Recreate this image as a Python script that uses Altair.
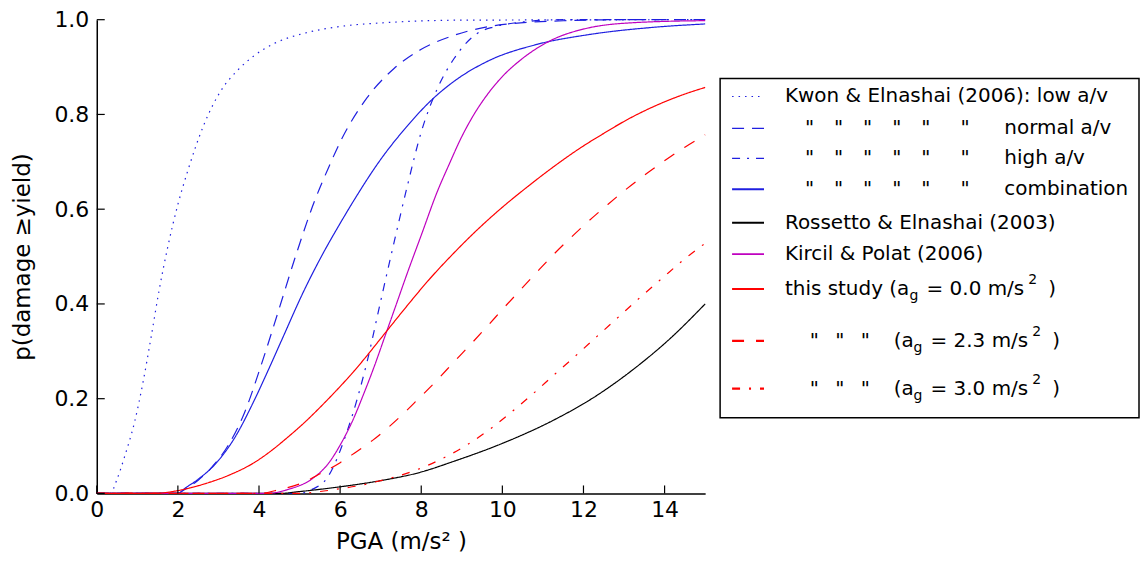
import altair as alt
import pandas as pd

# ---------------- data ----------------
series_names = ["low", "normal", "high", "combination", "rossetto", "kircil", "ag0", "ag23", "ag30"]

low_x = [0, 0.33, 0.5, 0.68, 0.93, 1.13, 1.34, 1.54, 1.75, 2.0, 2.24, 2.65, 3.06, 3.47, 3.88, 4.38, 5.1, 5.94, 7.17, 9.0, 15]
low_y = [0, 0, 0.03, 0.076, 0.15, 0.23, 0.33, 0.43, 0.52, 0.61, 0.68, 0.78, 0.85, 0.893, 0.924, 0.95, 0.971, 0.985, 0.994, 0.999, 1.0]

normal_x = [0, 2.0, 2.16, 2.5, 2.8, 3.23, 3.64, 4.05, 4.46, 4.91, 5.36, 5.7, 6.02, 6.67, 7.33, 7.99, 8.81, 10.04, 11.6, 13.0, 15]
normal_y = [0, 0, 0.008, 0.028, 0.052, 0.1, 0.17, 0.27, 0.38, 0.503, 0.615, 0.685, 0.745, 0.836, 0.897, 0.937, 0.967, 0.99, 0.998, 1.0, 1.0]

high_x = [0, 5.0, 5.3, 5.69, 6.18, 6.67, 7.0, 7.33, 7.66, 7.99, 8.4, 8.81, 9.38, 9.8, 10.29, 11.5, 15]
high_y = [0, 0, 0.008, 0.034, 0.133, 0.28, 0.406, 0.53, 0.65, 0.76, 0.855, 0.918, 0.971, 0.985, 0.993, 1.0, 1.0]

comb_x = [0, 2.0, 2.16, 2.5, 2.9, 3.39, 3.88, 4.2, 4.54, 5.12, 5.6, 6.0, 6.35, 7.0, 7.66, 8.2, 8.81, 9.63, 10.86, 12.09, 13.74, 15]
comb_y = [0, 0, 0.01, 0.03, 0.06, 0.116, 0.196, 0.255, 0.32, 0.43, 0.51, 0.57, 0.62, 0.705, 0.776, 0.826, 0.87, 0.912, 0.948, 0.968, 0.984, 0.991]

ross_x = [0, 4.5, 5.0, 6.0, 7.0, 7.99, 8.81, 10.04, 11.27, 12.26, 13.32, 14.15, 15]
ross_y = [0, 0, 0.004, 0.014, 0.027, 0.045, 0.068, 0.107, 0.155, 0.203, 0.268, 0.328, 0.40]

kirc_x = [0, 4.2, 4.7, 5.36, 5.7, 6.02, 6.3, 6.59, 6.85, 7.09, 7.38, 7.66, 8.0, 8.4, 8.7, 8.97, 9.3, 9.63, 10.0, 10.45, 11.1, 12.09, 13.3, 15]
kirc_y = [0, 0, 0.008, 0.034, 0.062, 0.105, 0.152, 0.212, 0.27, 0.328, 0.398, 0.466, 0.545, 0.638, 0.697, 0.748, 0.8, 0.842, 0.88, 0.915, 0.952, 0.982, 0.994, 0.998]

ag0_x = [0, 1.4, 2.0, 2.65, 3.3, 3.88, 4.3, 4.7, 5.1, 5.52, 6.35, 7.17, 7.66, 8.2, 8.81, 9.4, 10.04, 10.6, 11.27, 11.9, 12.5, 13.1, 13.74, 14.4, 15]
ag0_y = [0, 0, 0.006, 0.02, 0.04, 0.065, 0.09, 0.118, 0.148, 0.183, 0.259, 0.345, 0.397, 0.452, 0.508, 0.558, 0.607, 0.646, 0.69, 0.728, 0.76, 0.79, 0.817, 0.84, 0.857]

ag23_x = [0, 4.0, 4.5, 5.0, 5.52, 6.0, 6.35, 6.8, 7.17, 7.58, 7.9, 8.4, 8.81, 9.2, 9.63, 10.04, 10.45, 10.86, 11.27, 11.7, 12.09, 12.6, 13.08, 13.6, 14.06, 14.5, 15]
ag23_y = [0, 0, 0.008, 0.02, 0.042, 0.065, 0.085, 0.112, 0.138, 0.17, 0.197, 0.24, 0.278, 0.313, 0.353, 0.392, 0.43, 0.468, 0.505, 0.541, 0.572, 0.61, 0.644, 0.678, 0.706, 0.731, 0.757]

ag30_x = [0, 5.0, 5.5, 6.0, 6.5, 7.0, 7.4, 7.83, 8.48, 9.14, 9.7, 10.2, 10.75, 11.27, 11.8, 12.34, 12.87, 13.4, 13.95, 14.48, 15]
ag30_y = [0, 0, 0.004, 0.01, 0.017, 0.027, 0.036, 0.048, 0.072, 0.103, 0.136, 0.17, 0.21, 0.25, 0.29, 0.332, 0.373, 0.414, 0.455, 0.494, 0.528]

x_ticks = [0, 2, 4, 6, 8, 10, 12, 14]
y_ticks = [0.0, 0.2, 0.4, 0.6, 0.8, 1.0]

x_title = "PGA (m/s\u00b2 )"
y_title = "p(damage \u2265yield)"

# ---------------- styles ----------------
BLUE = "#1f1fe0"
colors = [BLUE, BLUE, BLUE, BLUE, "#000000", "#bf00bf", "#ff0000", "#ff0000", "#ff0000"]
dashes = [[1.5, 5], [12, 8], [8, 7, 2, 7], [1, 0], [1, 0], [1, 0], [1, 0], [12, 12], [8, 9, 2, 9]]
widths = [1.2, 1.2, 1.2, 2.0, 2.0, 1.8, 2.0, 2.2, 2.2]

FONT = "DejaVu Sans"
W, H = 610, 475

rows = []
for name, xs, ys in zip(series_names,
                        [low_x, normal_x, high_x, comb_x, ross_x, kirc_x, ag0_x, ag23_x, ag30_x],
                        [low_y, normal_y, high_y, comb_y, ross_y, kirc_y, ag0_y, ag23_y, ag30_y]):
    for xv, yv in zip(xs, ys):
        rows.append({"series": name, "pga": xv, "p": yv})
df = pd.DataFrame(rows)

xscale = alt.Scale(domain=[0, 15], nice=False, zero=False)
yscale = alt.Scale(domain=[0, 1], nice=False)
xaxis = alt.Axis(values=x_ticks, format="d", title=x_title, ticks=False, grid=False,
                 domainColor="black", domainWidth=1.5, labelFontSize=22, titleFontSize=23,
                 labelPadding=6, titlePadding=10, labelFlush=False)
yaxis = alt.Axis(values=y_ticks, format=".1f", title=y_title, ticks=False, grid=False,
                 domainColor="black", domainWidth=1.5, labelFontSize=22, titleFontSize=23,
                 labelPadding=8, titlePadding=19, labelFlush=False)

lines = alt.Chart(df).mark_line(interpolate="monotone").encode(
    x=alt.X("pga:Q", scale=xscale, axis=xaxis),
    y=alt.Y("p:Q", scale=yscale, axis=yaxis),
    color=alt.Color("series:N", scale=alt.Scale(domain=series_names, range=colors), legend=None),
    strokeDash=alt.StrokeDash("series:N", scale=alt.Scale(domain=series_names, range=dashes), legend=None),
    strokeWidth=alt.StrokeWidth("series:N", scale=alt.Scale(domain=series_names, range=widths), legend=None),
)

xt = alt.Chart(pd.DataFrame({"t": x_ticks})).mark_rule(color="black", strokeWidth=1.2).encode(
    x=alt.X("t:Q", scale=xscale, axis=xaxis), y=alt.value(H), y2=alt.value(H - 8))
yt = alt.Chart(pd.DataFrame({"t": y_ticks})).mark_rule(color="black", strokeWidth=1.2).encode(
    y=alt.Y("t:Q", scale=yscale, axis=yaxis), x=alt.value(0), x2=alt.value(8))

# ---------------- hand-built legend ----------------
one = pd.DataFrame({"d": [0]})
BOX_L, BOX_R, BOX_T, BOX_B = 625, 1045, 59, 399
row_y = [77, 109, 139, 170, 203.5, 235, 270, 322, 370]
SYM_L, SYM_R = 637, 669
TXT_X = 690
FS = 20

legend_layers = [
    alt.Chart(one).mark_rect(fill="white", stroke="black", strokeWidth=1.5).encode(
        x=alt.value(BOX_L), x2=alt.value(BOX_R), y=alt.value(BOX_T), y2=alt.value(BOX_B))
]


def txt(s, x, y, size=FS, dy=0):
    return alt.Chart(pd.DataFrame({"s": [s]})).mark_text(
        align="left", baseline="middle", fontSize=size, font=FONT, color="black", dy=dy
    ).encode(text="s:N", x=alt.value(x), y=alt.value(y))


for i in range(9):
    legend_layers.append(
        alt.Chart(one).mark_rule(color=colors[i], strokeDash=dashes[i], strokeWidth=widths[i]).encode(
            x=alt.value(SYM_L), x2=alt.value(SYM_R), y=alt.value(row_y[i])))

Q6 = "\"\u2002\u2002\"\u2002\u2002\"\u2002\u2002\"\u2002\u2002\"\u2002\u2002\u2002\""
Q3 = "\"\u2002 \"\u2002 \""

legend_layers += [
    txt("Kwon & Elnashai (2006): low a/v", TXT_X, row_y[0]),
    txt(Q6, 710, row_y[1]), txt("normal a/v", 910, row_y[1]),
    txt(Q6, 710, row_y[2]), txt("high a/v", 910, row_y[2]),
    txt(Q6, 710, row_y[3]), txt("combination", 910, row_y[3]),
    txt("Rossetto & Elnashai  (2003)", TXT_X, row_y[4]),
    txt("Kircil & Polat (2006)", TXT_X, row_y[5]),
    # this study
    txt("this study (a", TXT_X, row_y[6]),
    txt("g", 815, row_y[6], size=14, dy=7),
    txt("= 0.0 m/s", 832, row_y[6]),
    txt("2", 934, row_y[6], size=14, dy=-9),
    txt(")", 954, row_y[6]),
    # ag 2.3
    txt(Q3, 715, row_y[7]),
    txt("(a", 799, row_y[7]),
    txt("g", 819, row_y[7], size=14, dy=7),
    txt("= 2.3 m/s", 836, row_y[7]),
    txt("2", 938, row_y[7], size=14, dy=-9),
    txt(")", 958, row_y[7]),
    # ag 3.0
    txt(Q3, 715, row_y[8]),
    txt("(a", 799, row_y[8]),
    txt("g", 819, row_y[8], size=14, dy=7),
    txt("= 3.0 m/s", 836, row_y[8]),
    txt("2", 938, row_y[8], size=14, dy=-9),
    txt(")", 958, row_y[8]),
]

chart = alt.layer(lines, xt, yt, *legend_layers).properties(
    width=W, height=H, padding={"left": 4, "top": 0, "right": 0, "bottom": 0}
).configure_view(stroke=None).configure_axis(
    labelFont=FONT, titleFont=FONT, labelColor="black", titleColor="black", titleFontWeight="normal"
).configure_text(font=FONT)

chart.save("out.html", embed_options={"renderer": "svg", "actions": False})
